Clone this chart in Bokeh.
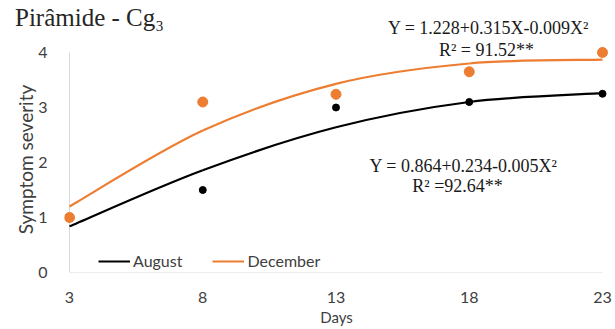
from bokeh.plotting import figure
from bokeh.models import (Range1d, FixedTicker, Label, Legend, LegendItem,
                          LinearAxis)
from bokeh.embed import file_html
from bokeh.resources import INLINE

# ---- data ----
days = [3, 8, 13, 18, 23]
august = [1.0, 1.5, 3.0, 3.1, 3.25]
december = [1.0, 3.1, 3.24, 3.65, 4.0]
# fitted (trend) values at each day
august_fit = [0.84, 1.86, 2.64, 3.10, 3.26]
december_fit = [1.20, 2.58, 3.43, 3.80, 3.87]
y_ticks = [0, 1, 2, 3, 4]
series_names = ["August", "December"]
title_text = "Pirâmide - Cg\u2083"
eq_dec = ["Y = 1.228+0.315X-0.009X²", "R² = 91.52**"]
eq_aug = ["Y = 0.864+0.234-0.005X²", "R² =92.64**"]
x_title = "Days"
y_title = "Symptom severity"

BLACK = "#000000"
ORANGE = "#ED7D31"
AXIS_GRAY = "#D9D9D9"
TXT = "#404040"
SANS = "Lato"
SERIF = "Liberation Serif"

W, H = 614, 328
FL, FB, FT, FR = 64, 272, 46, 6     # frame left / bottom / top, right border
PX_DAY = (602 - 69) / 20.0
PX_UNIT = 55.0
x_start = days[0] - (69 - FL) / PX_DAY
x_end = x_start + (W - FR - FL) / PX_DAY
y_end = (FB - FT) / PX_UNIT

p = figure(width=W, height=H, output_backend="svg", toolbar_location=None,
           x_range=Range1d(x_start, x_end), y_range=Range1d(0, y_end),
           min_border_left=FL, min_border_right=FR, min_border_top=FT,
           min_border_bottom=H - FB)
p.title.visible = False
p.outline_line_color = None
p.xgrid.visible = False
p.ygrid.visible = False
p.background_fill_color = "white"
p.border_fill_color = "white"
# pixel-based range used to place the texts above the frame
p.extra_x_ranges = {"px": Range1d(FL, W - FR)}

for ax in (p.xaxis[0], p.yaxis[0]):
    ax.axis_line_color = None
    ax.major_tick_line_color = None
    ax.minor_tick_line_color = None
    ax.major_label_text_font = SANS
    ax.major_label_text_font_size = "16px"
    ax.major_label_text_color = TXT
    ax.axis_label_text_font = SANS
    ax.axis_label_text_font_style = "normal"
    ax.axis_label_text_color = TXT

p.xaxis.ticker = FixedTicker(ticks=days)
p.yaxis.ticker = FixedTicker(ticks=y_ticks)
p.xaxis.axis_label = x_title
p.yaxis.axis_label = y_title
p.xaxis.axis_label_text_font_size = "15px"
p.yaxis.axis_label_text_font_size = "19px"
p.xaxis.major_label_standoff = 13
p.xaxis.axis_label_standoff = 2
p.yaxis.major_label_standoff = 11
p.yaxis.axis_label_standoff = -2

# axis lines at x = first day and y = 0
p.segment(x0=[days[0], days[0]], y0=[y_ticks[0], y_ticks[0]],
          x1=[days[0], days[-1]], y1=[y_ticks[-1], y_ticks[0]],
          line_color=AXIS_GRAY, line_width=1)

# smooth trend curves (cubic Bezier through the fitted values)
def smooth(xv, yv):
    n = len(xv)
    x0, y0, x1, y1, cx0, cy0, cx1, cy1 = ([] for _ in range(8))
    for i in range(n - 1):
        a = max(i - 1, 0)
        b = min(i + 2, n - 1)
        x0.append(xv[i]); y0.append(yv[i])
        x1.append(xv[i + 1]); y1.append(yv[i + 1])
        cx0.append(xv[i] + (xv[i + 1] - xv[a]) / 6.0)
        cy0.append(yv[i] + (yv[i + 1] - yv[a]) / 6.0)
        cx1.append(xv[i + 1] - (xv[b] - xv[i]) / 6.0)
        cy1.append(yv[i + 1] - (yv[b] - yv[i]) / 6.0)
    return dict(x0=x0, y0=y0, x1=x1, y1=y1, cx0=cx0, cy0=cy0, cx1=cx1, cy1=cy1)

p.scatter(days, august, size=7, color=BLACK)
la = p.bezier(line_color=BLACK, line_width=2.2, **smooth(days, august_fit))
ld = p.bezier(line_color=ORANGE, line_width=2.2, **smooth(days, december_fit))
p.scatter(days, december, size=10, color=ORANGE)

legend = Legend(items=[LegendItem(label=series_names[0], renderers=[la]),
                       LegendItem(label=series_names[1], renderers=[ld])],
                orientation="horizontal", location=(34, 2),
                padding=0, margin=0, spacing=30, label_standoff=3,
                glyph_width=32, glyph_height=18,
                border_line_color=None, background_fill_alpha=0,
                label_text_font=SANS, label_text_font_size="16px",
                label_text_color=TXT)
p.add_layout(legend)

# texts above the frame: label-only axes in the top panel (nearest first)
def top_text(txt, center_px, size, standoff, color="#1a1a1a"):
    ax = LinearAxis(x_range_name="px", ticker=FixedTicker(ticks=[center_px]),
                    major_label_overrides={center_px: txt},
                    axis_line_color=None, major_tick_line_color=None,
                    minor_tick_line_color=None, major_tick_out=0,
                    major_tick_in=0, minor_tick_out=0, minor_tick_in=0,
                    major_label_standoff=standoff,
                    major_label_text_font=SERIF,
                    major_label_text_font_size=size,
                    major_label_text_color=color)
    p.add_layout(ax, "above")

top_text(eq_dec[1], 486, "18px", -13)                  # R² line (baseline ~53)
top_text(eq_dec[0], 488, "18px", -1)                   # equation (baseline ~34)
top_text(title_text, 89, "25px", -16, color="#262626")  # title (baseline ~29)

# lower equation: inside the frame
for txt, px, py in [(eq_aug[0], 463, 165), (eq_aug[1], 457, 185)]:
    p.add_layout(Label(x=px - FL, y=FB - py, x_units="screen", y_units="screen",
                       text=txt, text_font=SERIF, text_font_size="18px",
                       text_color="#1a1a1a", text_align="center",
                       text_baseline="alphabetic"))

open("out.html", "w").write(file_html(p, INLINE))
